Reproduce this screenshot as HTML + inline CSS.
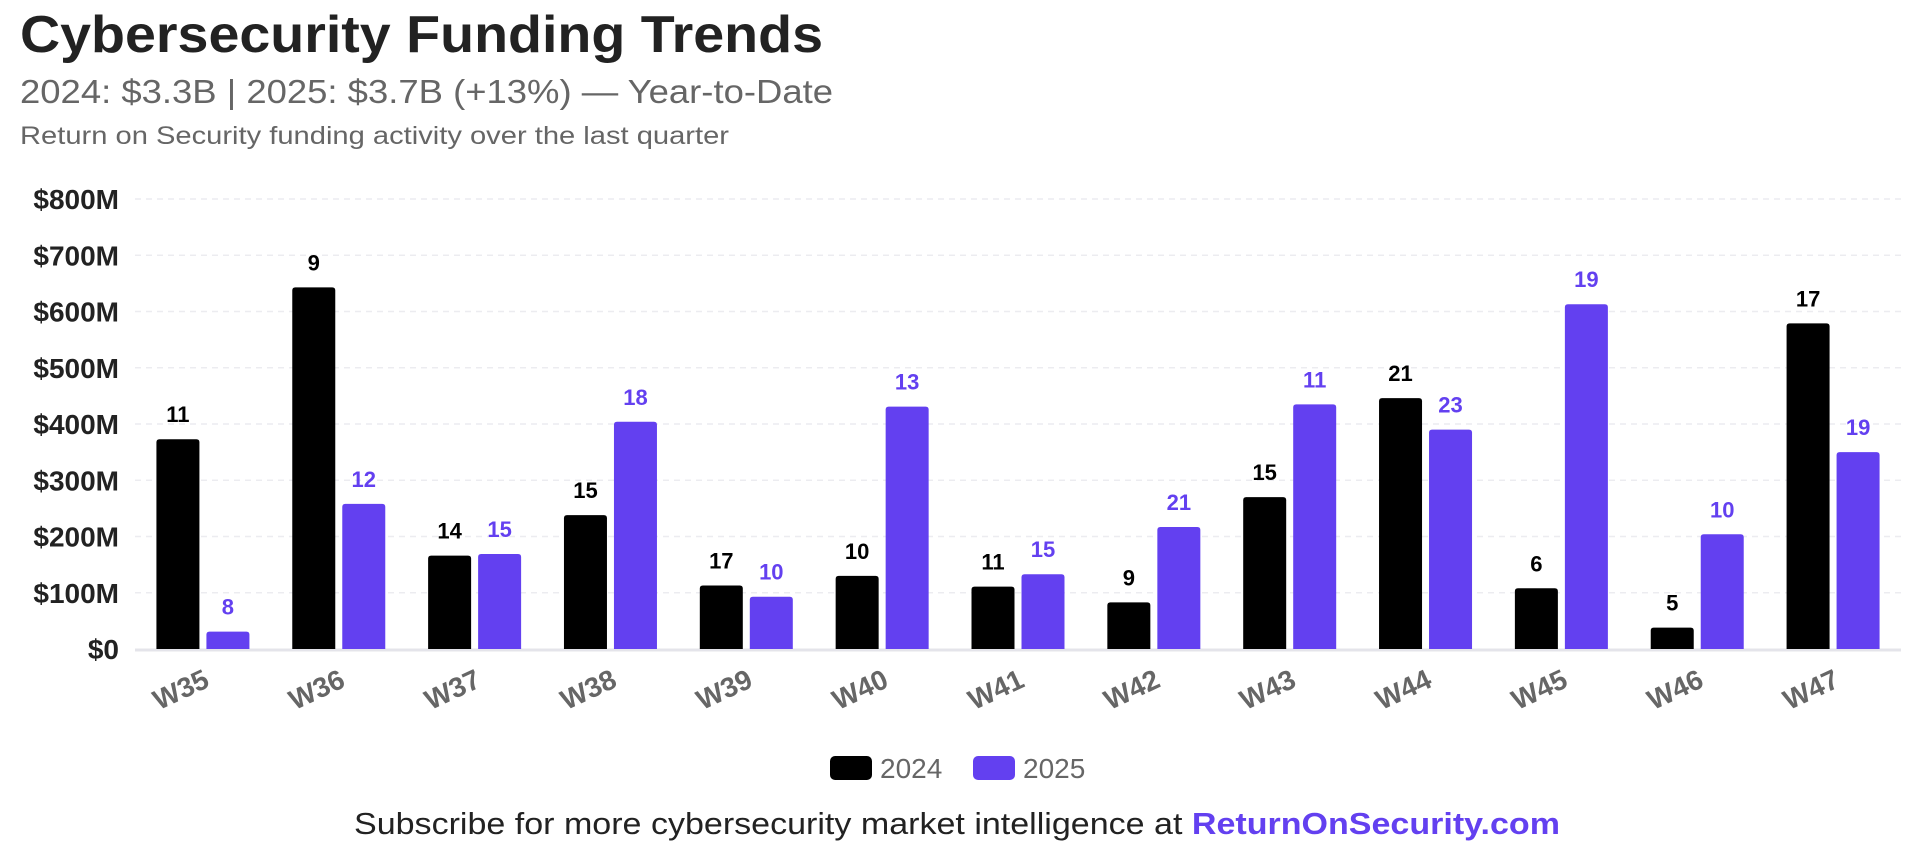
<!DOCTYPE html>
<html><head><meta charset="utf-8"><style>
html,body{margin:0;padding:0;background:#fff;}
body{width:1920px;height:847px;overflow:hidden;font-family:"Liberation Sans",sans-serif;}
</style></head><body>
<svg width="1920" height="847" viewBox="0 0 1920 847" xmlns="http://www.w3.org/2000/svg">
<text x="20" y="52" font-size="52" font-weight="bold" fill="#222" textLength="803" lengthAdjust="spacingAndGlyphs">Cybersecurity Funding Trends</text>
<text x="20" y="103" font-size="33" fill="#666" textLength="813" lengthAdjust="spacingAndGlyphs">2024: $3.3B | 2025: $3.7B (+13%) — Year-to-Date</text>
<text x="20" y="144" font-size="25" fill="#666" textLength="709" lengthAdjust="spacingAndGlyphs">Return on Security funding activity over the last quarter</text>
<g id="grid"></g><g id="bars"></g><g id="labels"></g>
<g>
<rect x="830" y="756" width="42" height="24" rx="5" fill="#000"/>
<text x="880" y="778" font-size="28" fill="#666">2024</text>
<rect x="973" y="756" width="42" height="24" rx="5" fill="#6340f0"/>
<text x="1023" y="778" font-size="28" fill="#666">2025</text>
</g>
<text x="354" y="834" font-size="31" fill="#222" textLength="1206" lengthAdjust="spacingAndGlyphs">Subscribe for more cybersecurity market intelligence at <tspan fill="#6340f0" font-weight="bold">ReturnOnSecurity.com</tspan></text>
</svg>
<script>
const categories=["W35","W36","W37","W38","W39","W40","W41","W42","W43","W44","W45","W46","W47"];
const values2024=[373,643,166,238,113,130,111,83,270,446,108,38,579];
const values2025=[31,258,169,404,93,431,133,217,435,390,613,204,350];
const deals2024=[11,9,14,15,17,10,11,9,15,21,6,5,17];
const deals2025=[8,12,15,18,10,13,15,21,11,23,19,10,19];
const yTicks=[0,100,200,300,400,500,600,700,800];
const yTickLabels=["$0","$100M","$200M","$300M","$400M","$500M","$600M","$700M","$800M"];
const NS="http://www.w3.org/2000/svg";
const x0=135,x1=1901,y0=649,yTop=199,yMax=800;
const band=(x1-x0)/categories.length;
function y(v){return y0-(v/yMax)*(y0-yTop);}
function bandX(i){return x0+i*band;}
function mk(tag,attrs,parent){const e=document.createElementNS(NS,tag);for(const k in attrs)e.setAttribute(k,attrs[k]);parent.appendChild(e);return e;}
const grid=document.getElementById('grid'),bars=document.getElementById('bars'),labels=document.getElementById('labels');
yTicks.forEach((t,i)=>{
  if(t>0){const l=mk('line',{x1:x0,x2:x1,y1:y(t),y2:y(t),stroke:'#ececf0','stroke-width':1.5,'stroke-dasharray':'6 5'},grid);
  
  }
  const tx=mk('text',{x:119,y:y(t)+10,'font-size':28,'font-weight':'bold',fill:'#222','text-anchor':'end'},labels);
  tx.textContent=yTickLabels[i];
  
  
});
const base=mk('line',{x1:x0,x2:x1,y1:y0+1,y2:y0+1,stroke:'#e4e4ea','stroke-width':3},grid);


const bw=43,gap=7;
categories.forEach((c,i)=>{
  const bx=bandX(i)+(band-(2*bw+gap))/2;
  [[values2024,deals2024,'#000','#000','2024',bx],[values2025,deals2025,'#6340f0','#6340f0','2025',bx+bw+gap]].forEach(s=>{
    const v=s[0][i],top=y(v);
    const p=mk('path',{d:`M${s[5]},${y0} V${top+3} Q${s[5]},${top} ${s[5]+3},${top} H${s[5]+bw-3} Q${s[5]+bw},${top} ${s[5]+bw},${top+3} V${y0} Z`,fill:s[2]},bars);
    
    
    const t=mk('text',{x:s[5]+bw/2,y:top-17,'font-size':22,'font-weight':'bold',fill:s[3],'text-anchor':'middle'},labels);
    t.textContent=s[1][i];
    
    
  });
  const cx=bandX(i)+band/2;
  const xl=mk('text',{'font-size':28,'font-weight':'bold',fill:'#666','text-anchor':'end',transform:`translate(${cx+8},${686}) rotate(-25)`},labels);
  xl.textContent=c;
  
  
});
</script>
</body></html>
